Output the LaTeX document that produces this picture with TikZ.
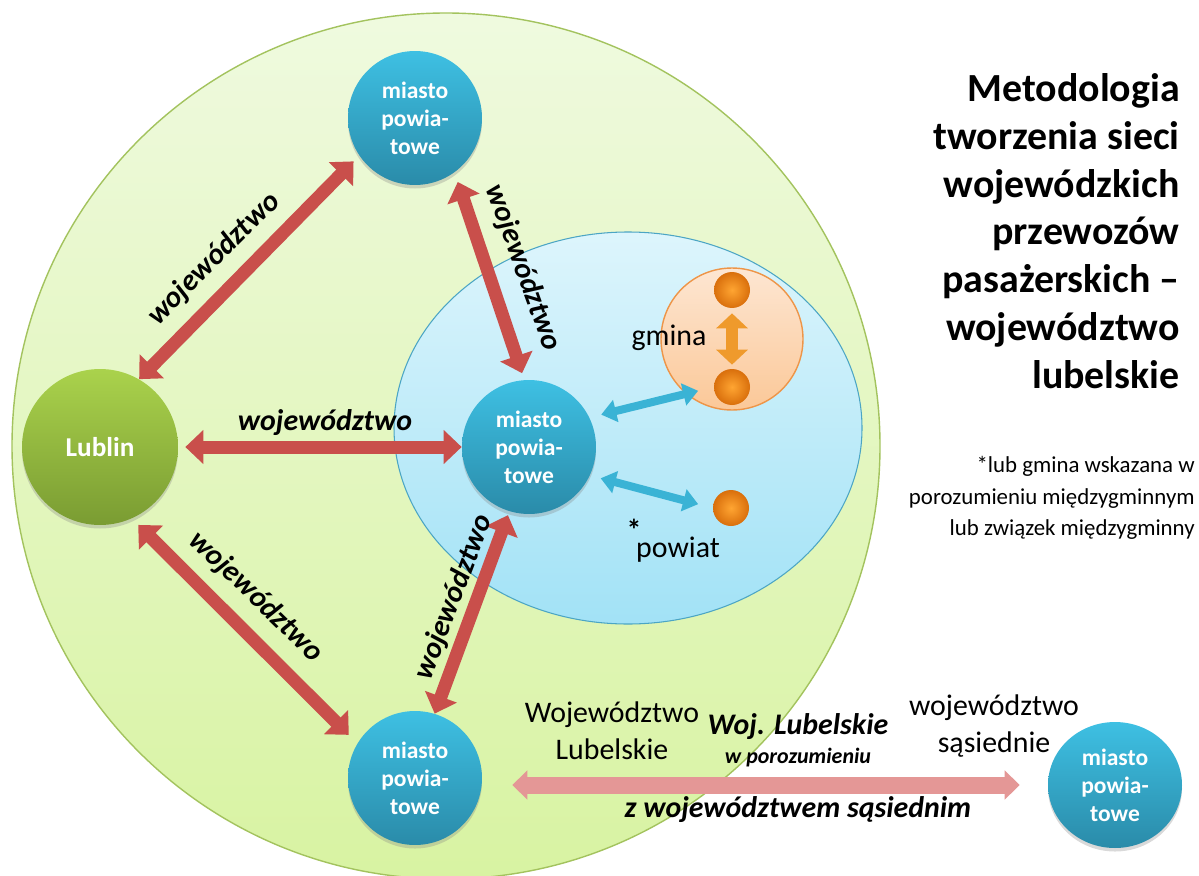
\documentclass[tikz,border=0pt]{standalone}
\usepackage{fontspec}
\setmainfont{Carlito}
\usetikzlibrary{arrows.meta,positioning,shapes.geometric,shadows}
\definecolor{AreaGreenTop}{HTML}{EFFADF}
\definecolor{AreaGreenBot}{HTML}{D8F3A2}
\definecolor{AreaGreenEdge}{HTML}{A3C35E}
\definecolor{AreaBlueTop}{HTML}{DDF5FC}
\definecolor{AreaBlueBot}{HTML}{A2E2F6}
\definecolor{AreaBlueEdge}{HTML}{4BA5C4}
\definecolor{GminaTop}{HTML}{FDE6D2}
\definecolor{GminaBot}{HTML}{FBC898}
\definecolor{GminaEdge}{HTML}{EE9548}
\definecolor{CityTop}{HTML}{3EC0E3}
\definecolor{CityBot}{HTML}{2A8BA9}
\definecolor{CapitalTop}{HTML}{AAD24C}
\definecolor{CapitalBot}{HTML}{7A9C32}
\definecolor{BallLight}{HTML}{FFA532}
\definecolor{BallDark}{HTML}{D96F0C}
\definecolor{LinkRed}{HTML}{C94F4B}
\definecolor{LinkBlue}{HTML}{3AB3D5}
\definecolor{LinkOrange}{HTML}{EF9A2C}
\definecolor{LinkPink}{HTML}{E49796}
\tikzset{
  every node/.style={text=black},
  citynode/.style={circle, minimum size=2.68cm, inner sep=0pt, align=center,
    top color=CityTop, bottom color=CityBot, text=white,
    font=\bfseries\fontsize{13.4}{15.9}\selectfont,
    drop shadow={opacity=0.3, shadow xshift=0pt, shadow yshift=-2pt}},
  capitalnode/.style={circle, minimum size=3.12cm, inner sep=0pt,
    top color=CapitalTop, bottom color=CapitalBot, text=white,
    font=\bfseries\fontsize{15.5}{18}\selectfont,
    drop shadow={opacity=0.3, shadow xshift=0pt, shadow yshift=-2pt}},
  ballnode/.style={circle, minimum size=0.72cm, inner sep=0pt, inner color=BallLight, outer color=BallDark},
  provlink/.style={{Triangle[width=0.66cm,length=0.36cm]}-{Triangle[width=0.66cm,length=0.36cm]}, draw=LinkRed, line width=0.26cm},
  locallink/.style={{Triangle[width=0.44cm,length=0.3cm]}-{Triangle[width=0.44cm,length=0.3cm]}, draw=LinkBlue, line width=0.16cm},
  gminalink/.style={{Triangle[width=0.62cm,length=0.3cm]}-{Triangle[width=0.62cm,length=0.3cm]}, draw=LinkOrange, line width=0.24cm},
  borderlink/.style={{Triangle[width=0.57cm,length=0.3cm]}-{Triangle[width=0.57cm,length=0.3cm]}, draw=LinkPink, line width=0.34cm},
  linklabel/.style={inner sep=0pt, font=\bfseries\itshape\fontsize{17}{20}\selectfont},
  plaintext/.style={inner sep=0pt, align=center, font=\fontsize{17}{21}\selectfont},
  smalllabel/.style={inner sep=0pt, font=\bfseries\itshape\fontsize{12.5}{15}\selectfont},
  headline/.style={inner sep=0pt, align=right, font=\bfseries\fontsize{22.7}{27.2}\selectfont},
  remark/.style={inner sep=0pt, align=right, font=\fontsize{13}{18.1}\selectfont},
}

\begin{document}
\begin{tikzpicture}[x=0.02cm,y=-0.02cm]
  \useasboundingbox (0,0) rectangle (1199,875);
  % Voivodeship and powiat areas
  \draw[draw=AreaGreenEdge, line width=0.8pt, top color=AreaGreenTop, bottom color=AreaGreenBot]
    (446,446) ellipse [x radius=434, y radius=433];
  \draw[draw=AreaBlueEdge, line width=0.6pt, top color=AreaBlueTop, bottom color=AreaBlueBot]
    (628,428) ellipse [x radius=234, y radius=196];
  \node[circle, minimum size=2.84cm, draw=GminaEdge, line width=0.8pt, top color=GminaTop, bottom color=GminaBot] (gminaarea) at (732,339) {};

  % Towns
  \node[capitalnode] (lublin) at (100,447) {Lublin};
  \node[citynode] (north) at (415,118) {miasto\\powia-\\towe};
  \node[citynode] (hub) at (529,447) {miasto\\powia-\\towe};
  \node[citynode] (south) at (415,778) {miasto\\powia-\\towe};
  \node[citynode, ellipse, minimum height=2.52cm] (neighbour) at (1115,785) {miasto\\powia-\\towe};

  % Gminy and powiat
  \node[ballnode] (gminatop) at (732,290) {};
  \node[ballnode] (gminabot) at (732,387) {};
  \node[ballnode] (powiatdot) at (731,508) {};

  % Voivodeship links
  \draw[provlink, shorten >=0.16cm] (lublin.60) -- (north.214);
  \draw[provlink, shorten <=0.14cm] (lublin.east) -- (hub.west);
  \draw[provlink, shorten <=0.2cm, shorten >=0.14cm] (north.306) -- (hub.94);
  \draw[provlink, shorten <=0.18cm, shorten >=0.24cm] (lublin.294) -- (south.149);
  \draw[provlink, shorten >=0.08cm] (south.73) -- (hub.253);
  \node[linklabel, rotate=45] (lab-nw) at (214,259) {województwo};
  \node[linklabel] (lab-w) at (325,423) {województwo};
  \node[linklabel, rotate=-70] (lab-ne) at (523,268) {województwo};
  \node[linklabel, rotate=-44] (lab-sw) at (256,597) {województwo};
  \node[linklabel, rotate=69] (lab-se) at (454,597) {województwo};

  % Local links
  \draw[locallink, shorten <=0.24cm, shorten >=0.32cm] (hub.26) -- (gminabot.west);
  \draw[locallink, shorten <=0.22cm, shorten >=0.3cm] (hub.335) -- (powiatdot.west);
  \draw[gminalink, shorten <=0.1cm, shorten >=0.08cm] (gminatop.south) -- (gminabot.north);
  \node[plaintext] (gminatext) at (669,338) {gmina};
  \node[font=\bfseries\fontsize{17}{20}\selectfont, inner sep=0pt] (star) at (634,530) {*};
  \node[plaintext] (powiattext) at (678,550) {powiat};

  % Link across the border
  \draw[borderlink, shorten <=0.6cm, shorten >=0.56cm] (south.east |- neighbour.west) -- (neighbour.west);
  \node[plaintext] (ourside) at (612,731) {Województwo\\Lubelskie};
  \node[linklabel] (agree-a) at (798,727) {Woj. Lubelskie};
  \node[smalllabel] (agree-b) at (798,758) {w porozumieniu};
  \node[linklabel] (agree-c) at (798,810) {z województwem sąsiednim};
  \node[plaintext] (otherside) at (994,726) {województwo\\sąsiednie};

  % Title and footnote
  \node[headline, anchor=east] (title) at (1180,231) {Metodologia\\tworzenia sieci\\wojewódzkich\\przewozów\\pasażerskich –\\województwo\\lubelskie};
  \node[remark, anchor=east] (footnote) at (1195,498) {*lub gmina wskazana w\\porozumieniu międzygminnym\\lub związek międzygminny};
\end{tikzpicture}
\end{document}
